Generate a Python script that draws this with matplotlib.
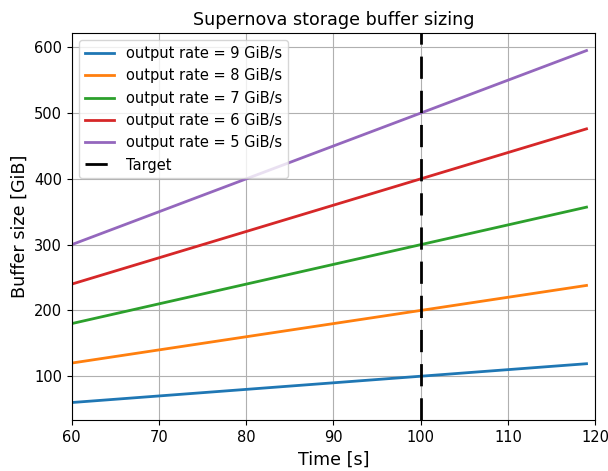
import matplotlib
matplotlib.use('Agg')
import matplotlib.pyplot as plt

# buffer size at the first and last time sample
time_s = [60, 119]
rates = [9, 8, 7, 6, 5]
buffer_gib = {
    9: [60, 119],
    8: [120, 238],
    7: [180, 357],
    6: [240, 476],
    5: [300, 595],
}
target_time = 100

plt.rcParams['font.size'] = 10.5

fig, ax = plt.subplots(figsize=(6.08, 4.71), dpi=100)
fig.subplots_adjust(left=0.118, right=0.979, top=0.930, bottom=0.108)

for rate in rates:
    ax.plot(time_s, buffer_gib[rate], lw=2, label='output rate = {} GiB/s'.format(rate))

ax.axvline(target_time, color='black', lw=2, dashes=(8, 4.3), label='Target')

ax.set_xlim(60, 120)
ax.set_title('Supernova storage buffer sizing', fontsize=12.6)
ax.set_xlabel('Time [s]', fontsize=12.6)
ax.set_ylabel('Buffer size [GiB]', fontsize=12.6)
ax.grid(True, color='#b0b0b0', lw=0.8)
ax.legend(loc='upper left')

fig.savefig('out.png', dpi=100)
